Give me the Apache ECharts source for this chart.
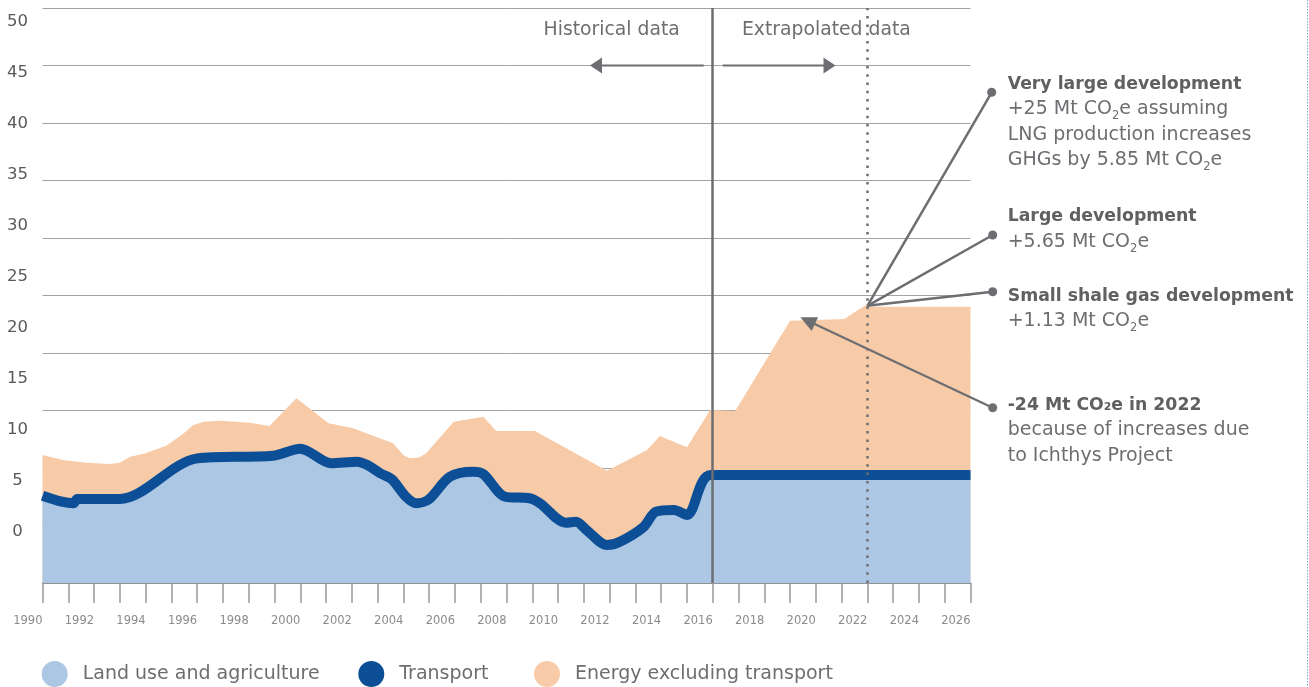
<!DOCTYPE html>
<html><head><meta charset="utf-8">
<script src="https://cdn.jsdelivr.net/npm/echarts@6/dist/echarts.min.js"></script>
<style>html,body{margin:0;padding:0;background:#fff}#c{width:1309px;height:687px}</style>
</head><body><div id="c"></div>
<script>
// ---- data (Mt CO2e) ----
const transportYears = [1990, 1990.75, 1991.2, 1991.35, 1993.0, 1996.0, 1998.95, 2000.0, 2001.2, 2002.2, 2002.6, 2003.1, 2003.55, 2004.1, 2004.5, 2005.0, 2005.8, 2006.7, 2007.1, 2007.95, 2008.9, 2009.3, 2010.3, 2010.7, 2011.1, 2011.9, 2012.4, 2013.3, 2013.8, 2014.5, 2015.0, 2015.92, 2026];
const transportValues = [7.59, 7.07, 6.93, 7.30, 7.30, 10.84, 11.07, 11.68, 10.41, 10.55, 10.26, 9.54, 9.02, 7.50, 6.93, 7.30, 9.24, 9.68, 9.48, 7.50, 7.37, 6.93, 5.24, 5.33, 4.61, 3.30, 3.59, 4.84, 6.20, 6.35, 5.91, 9.39, 9.39];
const energyYears = [1990, 1990.8, 1991.7, 1992.6, 1993.0, 1993.4, 1994.0, 1994.8, 1995.3, 1995.6, 1995.85, 1996.25, 1996.9, 1998.05, 1998.8, 1999.85, 2001.1, 2002.05, 2003.6, 2004.0, 2004.2, 2004.4, 2004.65, 2004.9, 2005.95, 2007.1, 2007.6, 2009.1, 2011.9, 2013.45, 2013.95, 2015.0, 2015.9, 2016.87, 2019.0, 2021.1, 2021.95, 2022.15, 2026];
const energyTop = [11.13, 10.70, 10.46, 10.35, 10.46, 10.98, 11.28, 11.94, 12.72, 13.25, 13.74, 14.03, 14.11, 13.94, 13.65, 16.06, 13.89, 13.45, 12.15, 11.13, 10.90, 10.84, 10.95, 11.33, 14.03, 14.46, 13.22, 13.22, 9.77, 11.57, 12.78, 11.80, 15.04, 14.96, 22.81, 22.96, 24.2, 24.03, 24.03];
const yTickLabels = [0, 5, 10, 15, 20, 25, 30, 35, 40, 45, 50];
const xMin = 1990, xMax = 2026;
const historicalEnd = 2016, scenarioYear = 2022;
const seriesNames = ['Land use and agriculture', 'Transport', 'Energy excluding transport'];

const FONT = '"DejaVu Sans"';
const C_LAND = '#abc7e4', C_TRANS = '#0c4f96', C_ENERGY = '#f8cba8', C_GREY = '#6d6e71';

const chart = echarts.init(document.getElementById('c'), null, {renderer: 'canvas'});
const pairs = (xs, ys) => xs.map((x, i) => [x, ys[i]]);

const legendBase = {
  orient: 'horizontal', icon: 'circle', itemWidth: 26, itemHeight: 26, padding: 0, selectedMode: false,
  top: 661, textStyle: {fontFamily: FONT, fontSize: 19, color: C_GREY, padding: [0, 0, 0, 10]}
};

chart.setOption({
  animation: false,
  grid: {left: 42.5, right: 338.5, top: 8, bottom: 104, containLabel: false},
  legend: [
    Object.assign({}, legendBase, {data: [seriesNames[0]], left: 41.7}),
    Object.assign({}, legendBase, {data: [seriesNames[1]], left: 358.3}),
    Object.assign({}, legendBase, {data: [seriesNames[2]], left: 534})
  ],
  xAxis: {
    type: 'value', min: xMin, max: xMax, interval: 1,
    axisLine: {show: true, lineStyle: {color: '#8c8c8c', width: 1.5}},
    axisTick: {show: true, length: 20, lineStyle: {color: '#9a9a9a', width: 1.5}},
    splitLine: {show: false},
    axisLabel: {
      formatter: v => (v % 2 === 0 ? String(v) : ''), align: 'right', margin: 32,
      fontFamily: FONT, fontSize: 11.5, color: '#8a8b8d'
    }
  },
  yAxis: [
    {
      type: 'value', min: 0, max: 50, interval: 5,
      axisLine: {show: false}, axisTick: {show: false}, axisLabel: {show: false},
      splitLine: {show: true, lineStyle: {color: '#a3a3a3', width: 1}}
    },
    {
      type: 'value', min: -5, max: 51.3, interval: 5, position: 'left',
      axisLine: {show: false}, axisTick: {show: false}, splitLine: {show: false},
      axisLabel: {
        formatter: v => (yTickLabels.indexOf(v) >= 0 ? String(v) : ''),
        align: 'center', margin: 25, fontFamily: FONT, fontSize: 16.5, color: '#58595b',
        showMaxLabel: false
      }
    }
  ],
  series: [
    {
      name: seriesNames[2], type: 'line', data: pairs(energyYears, energyTop), showSymbol: false, symbol: 'none',
      smooth: false, lineStyle: {width: 0}, itemStyle: {color: C_ENERGY}, areaStyle: {color: C_ENERGY, opacity: 1}, z: 2
    },
    {
      name: seriesNames[0], type: 'line', data: pairs(transportYears, transportValues), showSymbol: false, symbol: 'none',
      smooth: 0.3, lineStyle: {width: 0}, itemStyle: {color: C_LAND}, areaStyle: {color: C_LAND, opacity: 1}, z: 3
    },
    {
      name: seriesNames[1], type: 'line', data: pairs(transportYears, transportValues), showSymbol: false, symbol: 'none',
      smooth: 0.3, lineStyle: {width: 10, color: C_TRANS, cap: 'butt', join: 'round'}, itemStyle: {color: C_TRANS}, z: 4,
      markLine: {
        silent: true, symbol: 'none', label: {show: false}, animation: false,
        data: [
          {xAxis: historicalEnd, lineStyle: {type: 'solid', width: 2.5, color: C_GREY}},
          {xAxis: scenarioYear, lineStyle: {type: [2.5, 5.8], width: 2.5, color: C_GREY}}
        ]
      }
    }
  ]
});

// ---- annotations ----
const px = p => chart.convertToPixel({xAxisIndex: 0, yAxisIndex: 0}, p);
const origin = px([scenarioYear, 24.1]);
const arrowTip = px([2019.4, 23.1]);
const g = [];
function arrowHead(from, tip, L, W) {
  const dx = tip[0] - from[0], dy = tip[1] - from[1], d = Math.hypot(dx, dy);
  const ux = dx / d, uy = dy / d, bx = tip[0] - ux * L, by = tip[1] - uy * L;
  g.push({type: 'line', shape: {x1: from[0], y1: from[1], x2: bx + ux * 2, y2: by + uy * 2}, style: {stroke: C_GREY, lineWidth: 2.2}, z: 100});
  g.push({type: 'polygon', shape: {points: [tip, [bx - uy * W, by + ux * W], [bx + uy * W, by - ux * W]]}, style: {fill: C_GREY}, z: 100});
}
const divX = px([historicalEnd, 0])[0];
arrowHead([divX - 9, 65.5], [590, 65.5], 12, 8);
arrowHead([divX + 10, 65.5], [835.5, 65.5], 12, 8);

const rayEnds = [[991.7, 92.3], [992.7, 235], [992.7, 291.7]];
rayEnds.forEach(e => {
  g.push({type: 'line', shape: {x1: origin[0], y1: origin[1], x2: e[0], y2: e[1]}, style: {stroke: C_GREY, lineWidth: 2.5}, z: 100});
  g.push({type: 'circle', shape: {cx: e[0], cy: e[1], r: 4.5}, style: {fill: C_GREY}, z: 100});
});
const noteDot = [992.7, 407.7];
arrowHead(noteDot, arrowTip, 16, 7.5);
g.push({type: 'circle', shape: {cx: noteDot[0], cy: noteDot[1], r: 4.5}, style: {fill: C_GREY}, z: 100});

const rich = {
  h: {fontFamily: FONT, fontSize: 17.3, fontWeight: 'bold', fill: '#5f6062', lineHeight: 25.5},
  t: {fontFamily: FONT, fontSize: 19, fill: C_GREY, lineHeight: 25.5},
  s: {fontFamily: FONT, fontSize: 11.5, fill: C_GREY, lineHeight: 6, verticalAlign: 'bottom'}
};
const notes = [
  {y: 71.3, text: '{h|Very large development}\n{t|+25 Mt CO}{s|2}{t|e assuming}\n{t|LNG production increases}\n{t|GHGs by 5.85 Mt CO}{s|2}{t|e}'},
  {y: 204, text: '{h|Large development}\n{t|+5.65 Mt CO}{s|2}{t|e}'},
  {y: 283.3, text: '{h|Small shale gas development}\n{t|+1.13 Mt CO}{s|2}{t|e}'},
  {y: 392.3, text: '{h|-24 Mt CO₂e in 2022}\n{t|because of increases due}\n{t|to Ichthys Project}'}
];
notes.forEach(n => g.push({type: 'text', x: 1007.7, y: n.y, z: 100,
  style: {text: n.text, rich: rich, align: 'left', verticalAlign: 'top', fontFamily: FONT, fontSize: 19, fill: C_GREY}}));

g.push({type: 'text', x: (542.7 + 680.7) / 2, y: 30, z: 100, style: {text: 'Historical data', align: 'center', verticalAlign: 'middle', fontFamily: FONT, fontSize: 18.8, fill: C_GREY}});
g.push({type: 'text', x: (742.7 + 910) / 2, y: 30, z: 100, style: {text: 'Extrapolated data', align: 'center', verticalAlign: 'middle', fontFamily: FONT, fontSize: 18.8, fill: C_GREY}});
g.push({type: 'line', shape: {x1: 1307.5, y1: 0, x2: 1307.5, y2: 687}, style: {stroke: '#7ea3d6', lineWidth: 1, lineDash: [1.5, 1.5]}, z: 100});

chart.setOption({graphic: g});
</script>
</body></html>
